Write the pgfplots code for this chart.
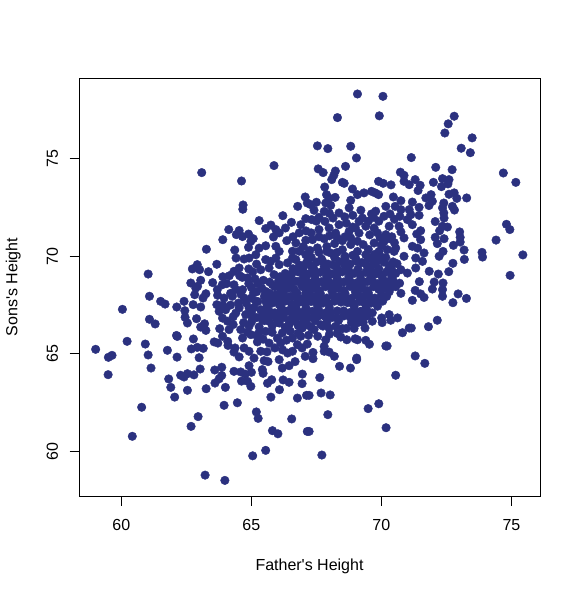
\documentclass[border=0pt]{standalone}
\usepackage{pgfplots}
\pgfplotsset{compat=1.18}
\usepackage{fontspec}
\setmainfont{Liberation Sans}
\definecolor{dotblue}{HTML}{2B317F}
\begin{document}
\begin{tikzpicture}[x=1pt,y=1pt]
\useasboundingbox (0,0) rectangle (580,594);
\begin{axis}[
  at={(79pt,98pt)},anchor=south west,
  width=461pt,height=418pt,scale only axis,
  xmin=58.37,xmax=76.1,ymin=57.71,ymax=79.14,
  xtick={60,65,70,75},ytick={60,65,70,75},
  tick pos=lower,tick align=outside,major tick length=9.5pt,
  axis line style={black,line width=0.8pt},
  tick style={black,line width=0.8pt},
  font=\fontsize{16}{18}\selectfont,
  /pgf/number format/assume math mode=true,
  xticklabel style={yshift=-10pt},
  yticklabel style={rotate=90,anchor=south,xshift=0pt,yshift=8pt},
  xlabel={Father\textquotesingle s Height},ylabel={Sons\textquotesingle s Height},
  xlabel style={yshift=-22pt},
  ylabel style={yshift=19pt},
]
\addplot[only marks,mark=*,mark size=4.3pt,color=dotblue,mark options={draw=none,fill=dotblue}] table {
x y
63.09 74.29
64.62 73.86
65.87 74.65
64.68 72.63
64.67 72.41
65.3 71.83
66.21 72.08
66.78 72.56
67.07 73.04
67.15 72.73
66.54 71.74
66.31 71.45
65.75 71.6
65.55 71.42
65.94 71.37
66.07 71.2
65.85 70.99
64.13 71.37
64.53 71.32
64.42 71.11
64.66 71.01
64.89 71.14
65.07 70.9
64.98 70.77
64.89 70.46
63.9 70.85
64.36 70.32
63.27 70.36
64.41 69.91
64.72 69.86
64.91 69.91
65.17 70.08
65.3 70.42
65.55 70.54
65.94 70.51
66.07 70.25
66.36 70.8
66.71 70.68
67.09 70.82
66.84 71.2
66.9 71.62
67.09 71.93
62.92 69.57
62.73 69.35
63.01 69.31
63.67 69.59
63.35 69.21
61.03 69.09
62.67 68.63
63.05 68.77
63.51 68.65
63.9 68.95
62.93 68.46
63.88 68.54
64.33 68.54
64.33 69.23
64.53 69.4
64.65 68.92
64.85 68.89
65.14 68.84
65.46 68.77
65.74 69.74
65.36 69.31
65.55 69.83
65.94 69.91
66.07 69.57
65.68 69.4
65.87 69.06
66.32 68.89
66.58 69.91
66.71 69.83
66.39 69.66
66.9 69.31
67.09 70.08
67.15 69.74
66.84 70.26
66.58 70.26
66.71 68.72
67.09 68.89
66.96 68.54
66.07 68.54
65.81 68.54
69.08 78.32
70.06 78.2
69.92 77.2
68.31 77.11
72.8 77.18
72.57 76.79
72.44 76.32
73.49 76.07
73.07 75.54
73.42 75.31
67.54 75.66
67.94 75.52
68.82 75.64
69.04 75.04
71.15 75.06
74.69 74.27
75.17 73.79
72.09 74.56
72.72 74.44
68.62 74.61
67.57 74.48
67.76 74.29
68.23 74.37
68.17 74.15
68.09 73.93
68.5 73.79
68.57 73.74
67.82 73.55
67.89 73.16
68.22 73.02
67.98 72.98
67.86 72.73
68.05 72.61
68.89 73.45
69.08 73.16
69.33 73.25
69.62 73.33
69.89 73.16
69.76 73.25
69.89 73.84
70.07 73.74
70.37 73.66
70.73 74.31
70.87 74.15
70.87 73.84
71.07 73.67
71.3 73.93
71.49 73.64
71.41 73.37
72.0 73.79
72.35 73.98
72.6 73.93
72.56 73.71
72.31 73.57
71.91 73.16
71.71 72.99
71.96 72.82
71.83 72.6
72.6 73.18
72.8 73.25
72.9 72.97
73.28 72.99
72.4 72.73
72.35 72.48
72.73 72.56
72.81 72.37
72.4 72.22
72.41 71.96
72.07 71.78
72.35 71.54
72.54 71.5
72.24 71.31
72.07 70.97
72.41 70.9
72.15 70.65
73.01 71.25
73.03 70.97
73.03 70.73
72.77 70.56
73.18 70.32
73.19 69.84
72.37 70.25
72.22 70
72.75 69.64
72.59 69.21
71.84 69.23
72.19 69.09
71.46 68.7
72.03 68.68
72.37 68.63
73.87 70.2
73.89 69.96
74.81 71.64
74.94 71.37
74.41 70.83
75.44 70.07
74.95 69.02
70.46 73.04
70.75 72.85
70.53 72.56
70.75 72.39
70.71 72.05
71.19 72.78
71.45 72.51
71.07 72.39
71.13 72.13
71.45 72.1
71.0 71.88
71.19 71.62
71.51 71.31
71.36 71.14
71.51 70.85
70.68 71.54
70.75 71.25
70.87 70.94
71.19 70.51
71.39 70.42
71.64 70.17
70.55 70.42
70.49 70.25
70.87 70
71.32 69.91
71.58 69.74
71.32 69.4
71.0 69.14
70.75 69.31
70.45 69.71
70.17 69.94
70.23 70.34
70.17 72.56
70.33 72.17
70.1 72.05
69.78 72.31
69.62 72.17
69.21 72.36
69.27 71.96
68.76 72.48
68.82 72.87
68.37 72.22
68.59 72.02
67.8 72.3
67.5 72.77
67.28 72.65
67.41 72.36
67.32 71.88
68.14 71.96
67.83 71.79
68.37 71.62
67.6 71.37
67.99 71.45
68.24 71.19
68.76 71.28
69.14 71.79
69.4 71.54
69.72 71.45
70.3 71.54
69.85 71.2
70.17 71.11
68.82 70.94
69.14 71.19
69.08 70.77
69.72 70.68
67.54 70.43
67.35 70.85
68.05 70.17
68.5 70.34
68.82 70.6
69.08 70.25
69.4 70.08
69.91 70.25
61.08 67.95
60.04 67.28
61.51 67.69
61.68 67.55
62.13 67.4
62.41 67.69
62.44 67.21
62.82 68.03
62.76 67.52
63.05 67.4
63.25 68.08
63.14 67.86
62.45 66.87
62.54 66.58
62.89 66.8
63.2 66.54
63.05 66.37
63.25 66.2
61.08 66.77
61.3 66.53
62.15 65.89
62.12 65.94
62.77 65.76
60.22 65.64
59.01 65.23
59.64 64.92
59.5 64.82
60.92 65.5
61.03 64.94
61.77 65.18
62.14 64.83
62.69 65.25
62.92 65.33
63.15 65.28
62.99 64.8
59.49 63.93
61.14 64.27
63.03 64.22
61.82 63.71
61.9 63.28
62.54 63.13
62.05 62.78
62.79 63.92
62.54 63.98
62.28 63.9
62.41 63.81
63.26 63.21
63.59 64.17
63.86 64.31
63.86 63.89
63.76 63.72
63.6 63.5
64.0 63.28
64.33 64.1
64.59 64.07
64.76 63.96
65.0 64.05
64.91 64.39
65.42 64.19
65.45 64.0
64.62 63.6
64.85 63.59
64.98 63.33
65.78 63.67
65.62 63.49
66.22 63.66
66.45 63.54
66.08 63.16
66.96 63.96
66.95 63.47
65.75 62.78
66.77 62.73
67.12 62.87
64.46 62.49
63.95 62.36
60.78 62.26
62.95 61.78
62.68 61.28
65.19 62.02
65.26 61.69
66.55 61.66
65.81 61.06
66.02 60.9
67.15 61.02
60.42 60.77
65.55 60.05
65.05 59.77
63.22 58.78
63.98 58.51
63.57 65.61
63.71 65.55
63.89 65.9
64.09 65.64
64.1 65.43
64.37 65.3
64.33 65.09
64.53 64.84
64.72 65.3
64.91 65.13
65.1 64.78
65.36 65.13
65.49 64.65
65.64 64.6
66.07 64.7
66.19 64.27
66.45 64.39
66.68 64.6
67.07 64.87
66.39 65.04
66.58 65.13
66.77 65.47
65.23 65.61
65.68 65.55
66.13 65.55
66.9 65.9
64.66 65.81
64.98 65.98
64.14 66.24
63.78 66.29
64.59 66.24
64.91 66.41
63.89 66.83
64.08 66.67
64.4 67.09
63.67 67.52
63.76 67.18
64.01 67.26
63.95 67.86
64.27 67.95
64.72 67.86
64.53 67.35
64.91 67.35
64.78 67.01
65.08 68.12
65.36 67.26
65.04 66.84
65.42 66.75
65.68 66.67
66.07 66.58
66.45 66.49
66.71 66.67
66.96 66.32
67.15 66.49
66.19 66.07
66.58 65.81
65.55 66.15
65.81 67.09
66.07 67.52
66.32 67.18
66.71 67.35
67.09 67.69
65.55 67.69
65.94 68.03
66.32 67.86
66.71 68.03
67.09 68.12
65.55 68.2
64.66 68.29
63.69 68.29
62.86 68.37
65.17 67.69
66.58 66.92
66.07 67.01
72.95 68.07
73.27 67.84
72.75 67.62
72.35 67.95
71.64 67.89
71.51 68.07
71.3 68.25
71.19 67.74
71.96 68.32
72.35 68.29
72.15 66.72
71.81 66.39
71.15 66.32
71.07 66.32
70.81 66.08
70.62 66.84
70.3 67.01
70.36 66.72
70.01 66.84
70.03 66.6
69.65 66.67
69.3 66.61
69.37 66.32
70.22 65.4
70.17 65.4
71.3 64.89
71.67 64.51
70.55 63.9
69.05 64.78
69.05 64.7
69.54 65.49
69.4 65.69
69.08 65.72
68.99 65.77
68.67 65.72
68.44 65.86
68.5 66.29
68.24 66.41
67.99 66.32
67.67 66.49
67.41 66.24
67.86 65.72
67.8 65.38
67.8 65.13
67.99 65.09
68.19 64.87
67.37 65.07
67.37 64.75
68.39 64.36
68.81 64.27
67.63 63.78
67.68 62.99
68.03 62.89
67.22 62.87
67.94 61.88
69.49 62.19
69.9 62.44
70.18 61.21
67.22 61.02
67.71 59.81
67.3 69.95
67.7 69.86
68.2 69.94
68.6 69.84
69.0 69.93
69.5 69.87
70.0 69.96
67.1 69.62
67.5 69.7
67.95 69.6
68.4 69.72
68.8 69.6
69.25 69.68
69.7 69.6
70.1 69.7
70.6 69.62
66.6 69.36
67.0 69.44
67.4 69.35
67.8 69.46
68.3 69.36
68.7 69.44
69.1 69.35
69.55 69.43
69.9 69.36
70.3 69.44
66.3 69.12
66.8 69.2
67.2 69.1
67.65 69.18
68.1 69.1
68.5 69.2
68.95 69.12
69.4 69.18
69.8 69.1
70.2 69.2
70.55 69.12
66.1 68.95
66.5 68.86
67.0 68.94
67.45 68.85
67.9 68.95
68.3 68.86
68.75 68.94
69.2 68.85
69.6 68.95
70.05 68.86
70.4 68.94
65.7 68.68
66.3 68.6
66.8 68.7
67.25 68.62
67.7 68.7
68.15 68.6
68.55 68.68
69.0 68.62
69.45 68.7
69.85 68.6
70.25 68.68
70.7 68.62
65.4 68.36
65.9 68.44
66.4 68.35
66.95 68.45
67.4 68.36
67.85 68.44
68.35 68.35
68.8 68.45
69.25 68.36
69.7 68.44
70.1 68.35
70.55 68.44
65.2 68.18
65.7 68.1
66.2 68.2
66.75 68.12
67.2 68.18
67.65 68.1
68.1 68.2
68.6 68.1
69.0 68.18
69.5 68.12
70.3 68.18
70.75 68.1
65.0 67.86
65.5 67.95
66.0 67.85
66.5 67.94
67.0 67.86
67.45 67.95
67.9 67.86
68.4 67.94
68.85 67.85
69.3 67.95
69.75 67.86
70.2 67.94
65.25 67.68
65.8 67.6
66.3 67.7
66.8 67.62
67.3 67.68
67.75 67.6
68.2 67.7
68.7 67.62
69.15 67.68
69.6 67.6
70.05 67.7
65.1 67.36
65.6 67.44
66.15 67.36
66.6 67.44
67.1 67.35
67.55 67.45
68.0 67.36
68.95 67.44
69.4 67.35
69.85 67.44
65.4 67.18
65.9 67.1
66.4 67.2
66.9 67.12
67.35 67.18
67.85 67.1
68.3 67.2
68.8 67.12
69.2 67.18
69.65 67.1
65.2 66.86
65.7 66.95
66.25 66.86
66.7 66.94
67.2 66.85
67.6 66.95
68.1 66.86
68.55 66.94
69.0 66.85
69.45 66.94
65.0 66.62
65.5 66.7
66.0 66.62
66.55 66.7
67.0 66.6
67.45 66.7
67.9 66.62
68.35 66.7
65.3 66.38
65.8 66.44
66.3 66.36
66.8 66.44
67.3 66.36
67.75 66.42
67.6 70.2
67.9 70.5
68.2 70.65
68.6 70.0
68.3 70.95
67.8 70.9
67.25 70.3
67.6 71.0
68.6 71.0
69.3 70.6
69.5 70.35
69.75 70.1
70.0 70.55
70.3 70.9
69.55 71.1
69.95 70.95
69.0 71.45
68.65 71.7
67.5 71.8
68.0 71.05
68.5 70.8
68.9 71.5
69.5 71.8
69.9 71.8
70.5 71.9
70.4 71.0
70.5 70.7
69.7 72.0
68.9 72.1
68.0 72.2
67.6 72.0
67.1 71.3
67.0 70.5
66.6 71.0
67.3 71.2
68.3 70.2
68.9 70.05
69.6 69.95
67.9 70.25
70.1 70.75
64.2 68.1
64.5 67.6
64.8 67.6
65.0 67.1
64.3 66.9
64.7 66.6
64.3 66.5
64.85 66.1
64.2 67.5
63.9 67.5
64.6 68.05
64.4 68.3
65.3 66.1
65.0 68.4
65.25 68.6
65.05 69.2
65.2 69.6
64.9 69.35
64.55 69.0
63.7 68.0
64.05 68.6
64.9 68.6
64.15 69.0
65.2 65.95
65.8 66.1
66.0 65.8
66.35 65.7
66.8 66.05
66.5 66.15
65.45 65.75
65.9 65.3
66.2 65.2
65.6 65.1
66.95 65.3
67.2 65.95
67.15 65.5
67.55 65.9
68.0 66.0
68.3 66.05
68.65 66.3
68.95 66.3
69.1 66.6
68.85 66.6
66.85 69.55
67.3 69.5
67.75 69.72
68.15 69.55
68.6 69.5
69.05 69.75
69.45 69.5
69.85 69.75
70.35 69.55
66.55 69.1
67.0 69.2
67.45 69.05
67.9 69.25
68.3 69.08
68.75 69.25
69.2 69.05
69.6 69.3
70.0 69.05
70.4 69.3
66.05 68.75
66.55 68.65
67.05 68.7
67.5 68.55
67.95 68.75
68.35 68.58
68.8 68.7
69.25 68.55
69.65 68.75
70.05 68.55
70.45 68.75
66.15 68.25
66.65 68.3
67.15 68.35
67.6 68.25
68.1 68.4
68.55 68.25
69.0 68.35
69.45 68.25
69.9 68.3
70.35 68.4
65.75 67.85
66.25 68.0
66.75 67.85
67.25 68.0
67.7 67.85
68.15 68.0
68.6 67.85
69.1 68.0
69.55 67.88
70.0 68.0
66.05 67.75
66.55 67.55
67.05 67.6
67.5 67.65
68.0 67.55
68.45 67.65
68.9 67.58
69.35 67.62
69.85 67.62
65.65 67.25
66.15 67.2
66.65 67.15
67.1 67.1
67.6 67.2
68.05 67.1
68.55 67.2
69.0 67.1
69.45 67.2
65.45 66.95
65.95 66.85
66.45 66.7
66.95 66.9
67.4 66.85
67.85 66.9
68.3 66.85
68.8 66.88
69.25 66.85
};
\end{axis}
\end{tikzpicture}
\end{document}
